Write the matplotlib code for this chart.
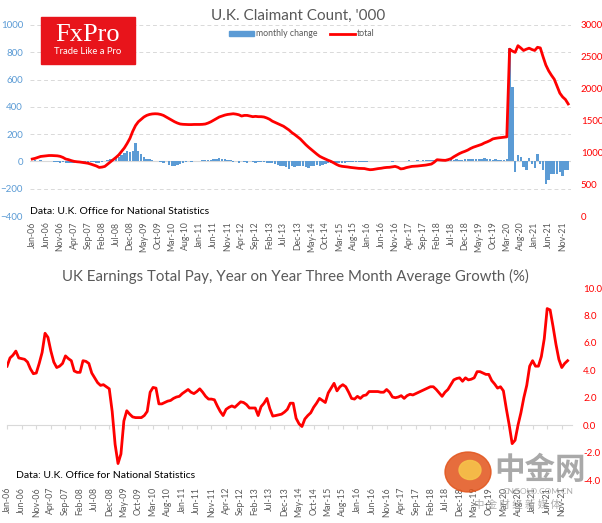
import numpy as np
import matplotlib
matplotlib.use('Agg')
import matplotlib.pyplot as plt
from matplotlib.patches import Rectangle, Circle, Patch
from matplotlib.lines import Line2D

plt.rcParams['font.family'] = ['Lato', 'DejaVu Sans']

tick_labels = ['Jan-06', 'Jun-06', 'Nov-06', 'Apr-07', 'Sep-07', 'Feb-08', 'Jul-08', 'Dec-08',
               'May-09', 'Oct-09', 'Mar-10', 'Aug-10', 'Jan-11', 'Jun-11', 'Nov-11', 'Apr-12',
               'Sep-12', 'Feb-13', 'Jul-13', 'Dec-13', 'May-14', 'Oct-14', 'Mar-15', 'Aug-15',
               'Jan-16', 'Jun-16', 'Nov-16', 'Apr-17', 'Sep-17', 'Feb-18', 'Jul-18', 'Dec-18',
               'May-19', 'Oct-19', 'Mar-20', 'Aug-20', 'Jan-21', 'Jun-21', 'Nov-21']

# claimant count, monthly change ('000), Jan-06 .. Jan-22
claim_change = [
    5, 8, 6, 8, 5, 3, 2, 0, -3, -5, -8, -6,
    -8, -10, -12, -10, -8, -10, -8, -10, -8, -5, -3, -8,
    -12, -5, 5, 10, 15, 20, 25, 35, 50, 65, 75, 70,
    75, 135, 75, 55, 35, 20, 15, 10, 5, 0, -5, -8,
    5, -25, -35, -30, -25, -20, -10, -5, 0, -3, 0, 2,
    5, 8, 10, 12, 10, 15, 20, 25, 20, 15, 10, 8,
    -5, 0, -10, 5, -3, -8, 5, -5, -10, -5, -3, -5,
    -10, -12, -15, -20, -25, -30, -35, -40, -55, -35, -40, -35,
    -35, -30, -40, -50, -35, -30, -25, -30, -25, -20, -15, -15,
    -15, -12, -10, -8, -8, -5, -5, -5, -5, -3, -3, -3,
    -2, 2, 3, 5, 3, 2, 2, 3, 0, -3, 2, 5,
    3, 5, 5, 8, 5, 5, 8, 5, 8, 10, 8, 10,
    8, 5, 10, 12, 10, 12, 15, 12, 15, 10, 12, 15,
    15, 18, 20, 15, 20, 15, 25, 20, 15, 10, 15, 12,
    10, 8, 15, 830, 545, -78, 49, 30, -41, -66, 24, -20,
    -46, 51, -17, -66, -163, -139, -95, -95, -95, -78, -107, -66,
    -60]

# claimant count, total ('000)
claim_total = [
    895, 905, 920, 935, 940, 945, 950, 950, 948, 945, 937, 920,
    895, 885, 870, 858, 852, 848, 842, 835, 828, 815, 800, 785,
    763, 768, 779, 815, 850, 885, 920, 960, 1015, 1069, 1140, 1220,
    1330, 1420, 1480, 1517, 1555, 1580, 1595, 1603, 1606, 1604, 1595, 1580,
    1555, 1530, 1505, 1480, 1460, 1445, 1440, 1438, 1436, 1436, 1438, 1438,
    1438, 1440, 1445, 1460, 1480, 1505, 1530, 1555, 1570, 1585, 1595, 1600,
    1606, 1600, 1590, 1570, 1580, 1580, 1570, 1560, 1565, 1560, 1560, 1555,
    1540, 1520, 1490, 1470, 1450, 1430, 1410, 1380, 1350, 1310, 1280, 1245,
    1211, 1165, 1120, 1080, 1043, 1005, 970, 937, 915, 895, 875, 858,
    835, 810, 790, 780, 775, 770, 763, 758, 752, 748, 747, 745,
    735, 727, 730, 738, 745, 750, 758, 763, 765, 772, 779, 765,
    740, 745, 760, 770, 779, 782, 785, 790, 795, 800, 808, 816,
    845, 884, 880, 876, 874, 885, 900, 930, 955, 980, 1000, 1016,
    1035, 1060, 1080, 1095, 1110, 1125, 1148, 1165, 1185, 1211, 1220, 1227,
    1232, 1237, 1243, 2620, 2590, 2570, 2675, 2640, 2600, 2620, 2636, 2615,
    2600, 2650, 2640, 2500, 2370, 2280, 2210, 2148, 2040, 1930, 1870, 1830,
    1760]

# earnings total pay, 3m average y/y growth (%)
earnings = [
    4.3, 4.9, 5.1, 5.4, 4.9, 4.85, 4.8, 4.6, 4.1, 3.75, 3.8, 4.5,
    5.3, 6.7, 6.4, 5.4, 4.6, 4.2, 4.3, 4.5, 5.05, 4.85, 4.7, 3.95,
    3.85, 3.85, 4.7, 4.65, 4.5, 3.8, 3.45, 3.1, 2.9, 2.95, 2.8, 2.65,
    1.0, -1.4, -2.8, -2.1, 0.3, 1.05, 0.8, 0.6, 0.55, 0.55, 0.55, 0.7,
    1.0, 2.4, 2.75, 2.7, 1.55, 1.55, 1.65, 1.75, 1.8, 1.95, 2.05, 2.1,
    2.3, 2.45, 2.6, 2.4, 2.3, 2.45, 2.65, 2.4, 2.1, 1.9, 1.9, 1.85,
    1.4, 1.0, 0.7, 1.15, 1.3, 1.4, 1.3, 1.5, 1.7, 1.65, 1.5, 1.25,
    1.25, 1.25, 0.7, 1.35, 1.6, 1.95, 1.2, 0.66, 0.7, 0.75, 0.8, 0.95,
    1.15, 1.6, 1.6, 0.5, 0.1, -0.1, 0.45, 0.7, 0.9, 1.3, 1.6, 1.95,
    1.8, 1.65, 2.35, 2.7, 3.05, 2.5, 2.8, 2.95, 2.8, 2.4, 1.95, 1.9,
    2.1, 1.95, 2.15, 2.2, 2.45, 2.45, 2.45, 2.45, 2.4, 2.4, 2.6, 2.4,
    2.05, 2.0, 2.05, 2.15, 1.95, 2.15, 2.25, 2.2, 2.3, 2.4, 2.5, 2.6,
    2.7, 2.8, 2.8, 2.6, 2.35, 2.1, 2.4, 2.6, 2.95, 3.3, 3.4, 3.45,
    3.2, 3.45, 3.3, 3.35, 3.45, 3.9, 3.9, 3.8, 3.7, 3.7, 3.25, 3.0,
    2.7, 2.8, 2.5, 1.2, 0.0, -1.35, -1.1, 0.0, 0.9, 2.0, 2.9, 4.3,
    4.7, 4.3, 4.3, 5.0, 6.3, 8.5, 8.4, 7.2, 5.9, 4.8, 4.2, 4.5,
    4.7]

months = np.arange(len(claim_total))
tick_pos = np.arange(len(tick_labels)) * 5

W, H = 602, 523
RED = '#FF0000'
BLUE = '#5B9BD5'
GREY = '#595959'
LIGHT = '#D9D9D9'


def box(x0, y0, x1, y1):
    # pixel box (top-left origin) -> figure fraction
    return [x0 / W, 1 - y1 / H, (x1 - x0) / W, (y1 - y0) / H]


fig = plt.figure(figsize=(W / 100, H / 100), dpi=100)

# ---------- top panel: claimant count ----------
ax1 = fig.add_axes(box(30, 25, 571, 216))
ax1.bar(months, claim_change, width=0.85, color=BLUE, zorder=2)
ax1.axhline(0, color=LIGHT, lw=0.8, zorder=1)
ax1.set_ylim(-400, 1000)
ax1.set_yticks(range(-400, 1001, 200))
ax1.set_xlim(-0.8, 193)
ax1.grid(axis='y', ls=(0, (4, 3)), color=LIGHT, lw=0.7)
ax1.set_axisbelow(True)
for s in ax1.spines.values():
    s.set_visible(False)
ax1.tick_params(axis='y', length=0, labelsize=7, labelcolor=BLUE, pad=5)
ax1.set_xticks(tick_pos, tick_labels, rotation=90, fontsize=6.3, color=GREY)
ax1.tick_params(axis='x', length=0, pad=4)
fig.text(30 / W, 1 - 212 / H, 'Data: U.K. Office for National Statistics',
         fontsize=7.5, color='black', ha='left', va='center')

ax1r = ax1.twinx()
ax1r.plot(months, claim_total, color=RED, lw=2)
ax1r.set_ylim(0, 3000)
ax1r.set_yticks(range(0, 3001, 500))
for s in ax1r.spines.values():
    s.set_visible(False)
ax1r.tick_params(axis='y', length=0, labelsize=7, labelcolor=RED, pad=7)

fig.text(298 / W, 1 - 16 / H, "U.K. Claimant Count, '000", ha='center', va='center',
         fontsize=11, color=GREY)
handles = [Patch(color=BLUE), Line2D([], [], color=RED, lw=2)]
fig.legend(handles, ['monthly change', 'total'], loc='center', bbox_to_anchor=(302 / W, 1 - 34 / H),
           ncol=2, frameon=False, fontsize=6.3, handlelength=2.8, handleheight=0.5,
           columnspacing=1.4, handletextpad=0.3, labelcolor=GREY)

# FxPro logo
fig.patches.append(Rectangle((41 / W, 1 - 64 / H), 94 / W, 47 / H, transform=fig.transFigure,
                             color='#E8141B', zorder=5))
fig.text(88 / W, 1 - 35 / H, 'FxPro', ha='center', va='center', fontsize=19, color='white',
         family='Liberation Serif', zorder=6)
fig.text(88 / W, 1 - 52 / H, 'Trade Like a Pro', ha='center', va='center', fontsize=6.8,
         color='white', zorder=6)

# ---------- bottom panel: earnings ----------
ax2 = fig.add_axes(box(6.5, 288, 572, 480))
ax2.plot(months, earnings, color=RED, lw=2, zorder=3)
ax2.set_ylim(-4, 10)
ax2.set_yticks(range(-4, 11, 2))
ax2.set_yticklabels([f'{v:.1f}' for v in range(-4, 11, 2)])
ax2.yaxis.tick_right()
ax2.set_xlim(-0.2, 193.5)
for s in ax2.spines.values():
    s.set_visible(False)
ax2.tick_params(axis='y', length=0, labelsize=7, labelcolor=RED, pad=8)
ax2.set_xticks(tick_pos, tick_labels, rotation=90, fontsize=6.3, color=GREY)
ax2.tick_params(axis='x', length=0, pad=5)

zero_frac = (0 - (-4)) / 14
sec = ax2.secondary_xaxis(zero_frac)
sec.set_xticks(tick_pos, [''] * len(tick_pos))
sec.tick_params(axis='x', length=3, color=LIGHT, width=0.8)
for s in sec.spines.values():
    s.set_color(LIGHT)

fig.text(16 / W, 1 - 476 / H, 'Data: U.K. Office for National Statistics',
         fontsize=7.5, color='black', ha='left', va='center')
fig.text(295 / W, 1 - 276 / H, 'UK Earnings Total Pay, Year on Year Three Month Average Growth (%)',
         ha='center', va='center', fontsize=10.8, color=GREY)

# watermark
fig.patches.append(Circle((468 / W, 1 - 472 / H), 23 / W, transform=fig.transFigure,
                          color='#E2541B', alpha=0.85, zorder=7))
fig.patches.append(Circle((470 / W, 1 - 470 / H), 11 / W, transform=fig.transFigure,
                          color='#F6C24A', alpha=0.9, zorder=8))
fig.text(540 / W, 1 - 470 / H, '中金网', ha='center', va='center', fontsize=22, color='#9a9a9a',
         alpha=0.85, family=['Noto Sans CJK SC', 'DejaVu Sans'], weight='bold', zorder=7)
fig.text(538 / W, 1 - 491 / H, 'CNGOLD.COM.CN', ha='center', va='center', fontsize=6,
         color='#9a9a9a', alpha=0.8, zorder=7)
fig.text(517 / W, 1 - 505 / H, '中 金 财 经 新 媒 体', ha='center', va='center', fontsize=7.5,
         color='#9a9a9a', alpha=0.8, family=['Noto Sans CJK SC', 'DejaVu Sans'], zorder=7)

fig.savefig('out.png', dpi=100)
